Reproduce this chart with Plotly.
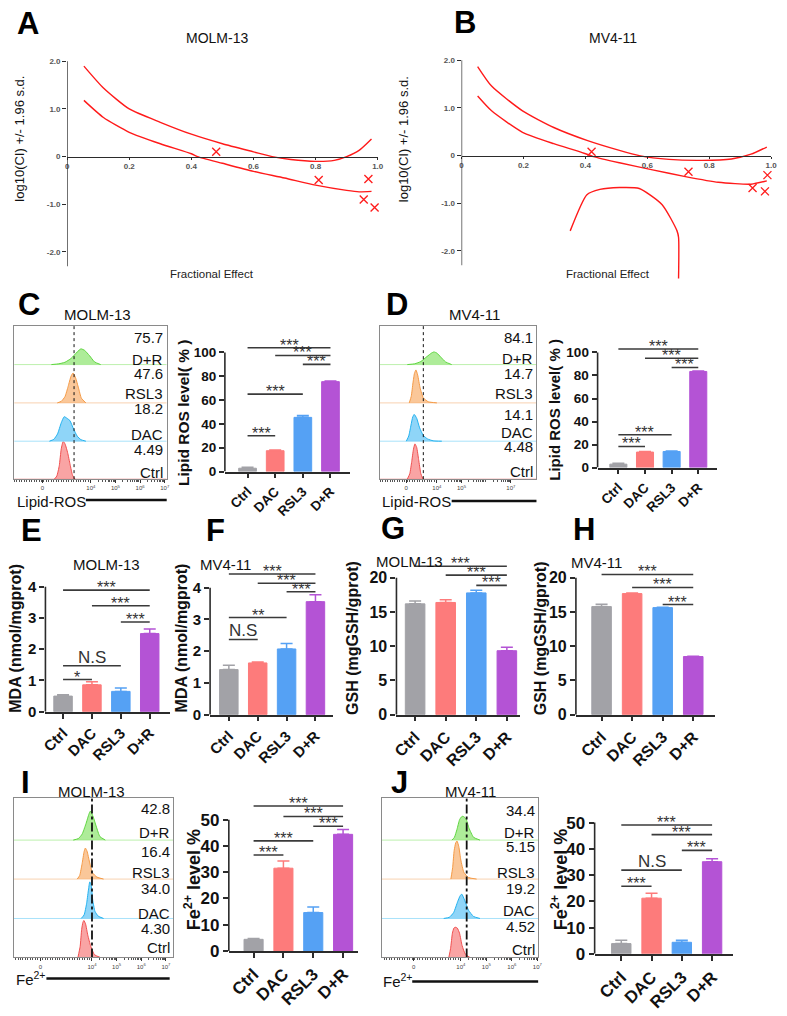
import numpy as np
import plotly.graph_objects as go

W, H = 787, 1016
FONT = "Liberation Sans, Arial, sans-serif"
AX = "#2b2b2b"

# ---------------- data ----------------
groups = ["Ctrl", "DAC", "RSL3", "D+R"]
bar_colors = ["#a2a2a7", "#fd7b7b", "#55a1f4", "#b453d5"]

# A: MOLM-13 combination index (Fa vs log10 CI)
a_upper_fa = [0.054, 0.117, 0.20, 0.30, 0.40, 0.50, 0.60, 0.66, 0.72, 0.80, 0.86, 0.90, 0.94, 0.98]
a_upper_ci = [1.90, 1.44, 1.00, 0.72, 0.47, 0.27, 0.10, 0.00, -0.06, -0.10, -0.08, 0.00, 0.13, 0.37]
a_lower_fa = [0.054, 0.117, 0.20, 0.30, 0.40, 0.42, 0.50, 0.60, 0.70, 0.80, 0.90, 0.94, 0.98]
a_lower_ci = [1.18, 0.82, 0.51, 0.27, 0.06, 0.00, -0.14, -0.31, -0.45, -0.60, -0.71, -0.74, -0.73]
a_pts_fa = [0.48, 0.81, 0.97, 0.955, 0.99]
a_pts_ci = [0.10, -0.49, -0.47, -0.90, -1.07]

# B: MV4-11 combination index
b_upper_fa = [0.052, 0.097, 0.197, 0.298, 0.405, 0.51, 0.574, 0.67, 0.776, 0.872, 0.935, 0.986]
b_upper_ci = [1.87, 1.46, 0.94, 0.59, 0.32, 0.11, 0.00, -0.08, -0.10, -0.07, 0.03, 0.18]
b_lower_fa = [0.052, 0.097, 0.197, 0.298, 0.383, 0.426, 0.51, 0.617, 0.723, 0.829, 0.935, 0.986]
b_lower_ci = [1.25, 0.94, 0.49, 0.25, 0.08, -0.02, -0.15, -0.30, -0.44, -0.56, -0.60, -0.53]
b_arc_fa = [0.351, 0.405, 0.447, 0.51, 0.574, 0.648, 0.696, 0.701, 0.701]
b_arc_ci = [-1.58, -0.82, -0.71, -0.67, -0.69, -1.03, -1.58, -1.72, -2.58]
b_pts_fa = [0.42, 0.733, 0.988, 0.94, 0.98]
b_pts_ci = [0.08, -0.34, -0.41, -0.68, -0.75]

# flow histograms: x = log10 fluorescence (display), h = height in row units
c_hist = {
    "Ctrl": ([2.52, 2.62, 2.72, 2.80, 2.88, 2.96, 3.06, 3.16, 3.26, 3.36],
             [0, 0.08, 0.35, 0.79, 0.99, 0.91, 0.69, 0.38, 0.10, 0]),
    "DAC": ([2.32, 2.50, 2.65, 2.80, 2.92, 3.05, 3.15, 3.30, 3.45, 3.60, 3.80],
            [0, 0.05, 0.19, 0.48, 0.64, 0.59, 0.54, 0.32, 0.13, 0.04, 0]),
    "RSL3": ([2.64, 2.80, 2.95, 3.08, 3.20, 3.28, 3.38, 3.50, 3.62, 3.80],
             [0, 0.04, 0.16, 0.43, 0.70, 0.78, 0.66, 0.39, 0.12, 0]),
    "D+R": ([2.40, 2.70, 2.95, 3.20, 3.45, 3.60, 3.75, 3.95, 4.15, 4.40],
            [0, 0.02, 0.06, 0.16, 0.33, 0.41, 0.37, 0.23, 0.07, 0]),
}
d_hist = {
    "Ctrl": ([2.80, 2.90, 2.98, 3.05, 3.11, 3.18, 3.26, 3.35, 3.44],
             [0, 0.14, 0.46, 0.78, 0.92, 0.83, 0.51, 0.14, 0]),
    "DAC": ([2.76, 2.86, 2.95, 3.02, 3.08, 3.18, 3.30, 3.45, 3.62, 3.85, 4.20],
            [0, 0.14, 0.42, 0.63, 0.70, 0.60, 0.35, 0.15, 0.06, 0.01, 0]),
    "RSL3": ([2.88, 2.96, 3.03, 3.09, 3.15, 3.22, 3.32, 3.45, 3.65, 4.00],
             [0, 0.17, 0.52, 0.77, 0.86, 0.73, 0.39, 0.13, 0.03, 0]),
    "D+R": ([2.80, 3.10, 3.35, 3.60, 3.78, 3.88, 4.00, 4.15, 4.35, 4.60],
            [0, 0.02, 0.08, 0.21, 0.30, 0.33, 0.30, 0.20, 0.07, 0]),
}
i_hist = {
    "Ctrl": ([3.43, 3.52, 3.58, 3.63, 3.67, 3.74, 3.83, 3.95, 4.10, 4.34],
             [0, 0.28, 0.70, 0.88, 0.93, 0.84, 0.56, 0.28, 0.07, 0]),
    "DAC": ([3.56, 3.68, 3.78, 3.85, 3.91, 3.97, 4.03, 4.12, 4.25, 4.47],
            [0, 0.09, 0.37, 0.69, 0.92, 0.83, 0.46, 0.18, 0.06, 0]),
    "RSL3": ([3.40, 3.50, 3.60, 3.68, 3.73, 3.80, 3.90, 4.02, 4.20, 4.47],
             [0, 0.09, 0.39, 0.69, 0.78, 0.70, 0.43, 0.16, 0.05, 0]),
    "D+R": ([3.24, 3.45, 3.60, 3.75, 3.88, 3.94, 4.05, 4.18, 4.32, 4.54],
            [0, 0.04, 0.15, 0.40, 0.66, 0.73, 0.58, 0.33, 0.09, 0]),
}
j_hist = {
    "Ctrl": ([3.53, 3.60, 3.67, 3.73, 3.78, 3.86, 3.95, 4.05, 4.18, 4.36],
             [0, 0.23, 0.61, 0.74, 0.76, 0.74, 0.61, 0.30, 0.08, 0]),
    "DAC": ([3.33, 3.55, 3.72, 3.88, 3.98, 4.04, 4.15, 4.30, 4.50, 4.75],
            [0, 0.03, 0.15, 0.43, 0.58, 0.61, 0.46, 0.21, 0.05, 0]),
    "RSL3": ([3.61, 3.68, 3.74, 3.80, 3.85, 3.92, 4.00, 4.12, 4.30, 4.62],
             [0, 0.29, 0.72, 0.91, 0.96, 0.82, 0.48, 0.17, 0.04, 0]),
    "D+R": ([3.65, 3.75, 3.85, 3.95, 4.02, 4.08, 4.20, 4.32, 4.50, 4.75],
            [0, 0.07, 0.27, 0.51, 0.58, 0.60, 0.54, 0.30, 0.07, 0]),
}
c_hist_labels = ["75.7", "D+R", "47.6", "RSL3", "18.2", "DAC", "4.49", "Ctrl"]
d_hist_labels = ["84.1", "D+R", "14.7", "RSL3", "14.1", "DAC", "4.48", "Ctrl"]
i_hist_labels = ["42.8", "D+R", "16.4", "RSL3", "34.0", "DAC", "4.30", "Ctrl"]
j_hist_labels = ["34.4", "D+R", "5.15", "RSL3", "19.2", "DAC", "4.52", "Ctrl"]
flow_ticktext = ["0", "10<sup>4</sup>", "10<sup>5</sup>", "10<sup>6</sup>", "10<sup>7</sup>"]

# bar charts: mean, error, significance brackets (i, j, y, label)
c_ros = [2.8, 17.5, 45.5, 75.5]
c_ros_err = [0.8, 0.5, 1.5, 0.5]
c_sig = [(0, 1, 30, "***"), (0, 2, 65, "***"), (0, 3, 104, "***"), (1, 3, 97.5, "***"), (2, 3, 90, "***")]
d_ros = [3.0, 13.5, 14.0, 83.5]
d_ros_err = [0.8, 0.5, 0.4, 0.4]
d_sig = [(0, 1, 18.4, "***"), (0, 2, 28.5, "***"), (0, 3, 103, "***"), (1, 3, 95, "***"), (2, 3, 87, "***")]
e_mda = [0.50, 0.86, 0.65, 2.50]
e_mda_err = [0.04, 0.10, 0.11, 0.15]
e_sig = [(0, 1, 1.03, "*"), (0, 2, 1.47, "N.S"), (0, 3, 3.89, "***"), (1, 3, 3.39, "***"), (2, 3, 2.87, "***")]
f_mda = [1.42, 1.63, 2.07, 3.56]
f_mda_err = [0.14, 0.03, 0.17, 0.22]
f_sig = [(0, 1, 2.37, "N.S"), (0, 2, 3.06, "**"), (0, 3, 4.43, "***"), (1, 3, 4.14, "***"), (2, 3, 3.87, "***")]
g_gsh = [16.2, 16.4, 17.8, 9.35]
g_gsh_err = [0.4, 0.4, 0.4, 0.5]
g_sig = [(0, 3, 21.7, "***"), (1, 3, 20.4, "***"), (2, 3, 18.9, "***")]
h_gsh = [15.8, 17.7, 15.65, 8.5]
h_gsh_err = [0.35, 0.1, 0.05, 0.05]
h_sig = [(0, 3, 20.5, "***"), (1, 3, 18.6, "***"), (2, 3, 16.1, "***")]
i_fe = [4.4, 31.5, 14.6, 44.4]
i_fe_err = [0.3, 2.7, 2.1, 1.8]
i_sig = [(0, 1, 36.5, "***"), (0, 2, 41.9, "***"), (0, 3, 55.2, "***"), (1, 3, 51.2, "***"), (2, 3, 47.5, "***")]
j_fe = [3.9, 21.2, 4.4, 35.1]
j_fe_err = [1.3, 1.9, 0.8, 1.1]
j_sig = [(0, 1, 25.75, "***"), (0, 2, 31.9, "N.S"), (0, 3, 49.1, "***"), (1, 3, 45.4, "***"), (2, 3, 39.4, "***")]

# ---------------- helpers ----------------
fig = go.Figure()
layout = {}
annotations = []
shapes = []


def ax_names(n):
    s = "" if n == 1 else str(n)
    return "x" + s, "y" + s, "xaxis" + s, "yaxis" + s


def dom_x(a, b):
    return [a / W, b / W]


def dom_y(top, bottom):
    return [1 - bottom / H, 1 - top / H]


def text(t, x, y, size, bold=False, angle=0, xanchor="center", color="#111"):
    annotations.append(dict(text=t, x=x / W, y=1 - y / H, xref="paper", yref="paper",
                            showarrow=False, textangle=angle, xanchor=xanchor, yanchor="middle",
                            font=dict(family=FONT, size=size, color=color,
                                      weight=700 if bold else 400)))


def pline(x0, x1, y, width=2.5):
    shapes.append(dict(type="line", xref="paper", yref="paper", x0=x0 / W, x1=x1 / W,
                       y0=1 - y / H, y1=1 - y / H, line=dict(color="#111", width=width)))


# ---------------- A / B ----------------
def ci_panel(n, xpx, zero_px, curves, pts_fa, pts_ci):
    xr, yr, xk, yk = ax_names(n)
    for fa, ci in curves:
        fig.add_trace(go.Scatter(x=fa, y=ci, xaxis=xr, yaxis=yr, mode="lines",
                                 line=dict(color="#ff1a1a", width=1.4, shape="spline", smoothing=0.6)))
    fig.add_trace(go.Scatter(x=pts_fa, y=pts_ci, xaxis=xr, yaxis=yr, mode="markers", cliponaxis=False,
                             marker=dict(symbol="x-thin", size=8, line=dict(color="#ff1a1a", width=1.3))))
    ppu = 48.4
    ymin, ymax = -2.65, 2.05
    top, bot = zero_px - ymax * ppu, zero_px - ymin * ppu
    tf = dict(family=FONT, size=8, color="#555", weight=700)
    layout[xk] = dict(domain=dom_x(*xpx), range=[0, 1.0], anchor="free", position=1 - zero_px / H,
                      showline=True, linecolor=AX, linewidth=1.3, ticks="outside", ticklen=2,
                      tickcolor=AX, tickvals=[0, 0.2, 0.4, 0.6, 0.8, 1.0],
                      ticktext=["0", "0.2", "0.4", "0.6", "0.8", "1.0"], tickfont=tf,
                      showgrid=False, zeroline=False)
    layout[yk] = dict(domain=dom_y(top, bot), range=[ymin, ymax], anchor=xr, showline=False,
                      ticks="outside", ticklen=4, tickcolor=AX, tickvals=[2, 1, 0, -1, -2],
                      ticktext=["2.0", "1.0", "0", "-1.0", "-2.0"], tickfont=tf,
                      showgrid=False, zeroline=False)
    shapes.append(dict(type="line", xref=xr, yref=yr, x0=0, x1=0, y0=-2.3, y1=2.0,
                       line=dict(color=AX, width=1.3)))


ci_panel(1, (63, 378), 153, [(a_upper_fa, a_upper_ci), (a_lower_fa, a_lower_ci)], a_pts_fa, a_pts_ci)
ci_panel(2, (463, 777), 152, [(b_upper_fa, b_upper_ci), (b_lower_fa, b_lower_ci), (b_arc_fa, b_arc_ci)],
         b_pts_fa, b_pts_ci)
text("MOLM-13", 215, 33, 14)
text("MV4-11", 617, 33, 14)
text("log10(CI) +/- 1.96 s.d.", 15, 135, 13, angle=-90)
text("log10(CI) +/- 1.96 s.d.", 405, 135, 13, angle=-90)
text("Fractional Effect", 210, 272, 11.5, color="#222")
text("Fractional Effect", 612, 272, 11.5, color="#222")

# ---------------- flow histograms ----------------
hist_style = {
    "Ctrl": ("#f05050", "rgba(246,125,125,0.7)", "#f3a0a0"),
    "DAC": ("#22b2f0", "rgba(95,195,245,0.7)", "#a8e2fa"),
    "RSL3": ("#f59a45", "rgba(248,175,110,0.7)", "#f8d2b0"),
    "D+R": ("#5fd640", "rgba(140,228,110,0.7)", "#bdf0ad"),
}


def hist_panel(n, hists, xpx, ypx, xrange, bases, gate, dash, tickvals, ticktext, labels, label_y):
    xr, yr, xk, yk = ax_names(n)
    for g, b in zip(groups, bases):
        hx, hh = hists[g]
        lc, fc, pale = hist_style[g]
        fig.add_trace(go.Scatter(x=[xrange[0], xrange[1]], y=[b, b], xaxis=xr, yaxis=yr, mode="lines",
                                 line=dict(color=pale, width=1)))
        fig.add_trace(go.Scatter(x=hx, y=[b + v for v in hh], xaxis=xr, yaxis=yr, mode="lines",
                                 fill="toself", fillcolor=fc,
                                 line=dict(color=lc, width=1, shape="spline", smoothing=0.5)))
    gw = 1 if dash == "dot" else 1.8
    fig.add_trace(go.Scatter(x=[gate, gate], y=[0, 4], xaxis=xr, yaxis=yr, mode="lines",
                             line=dict(color="#111", width=gw, dash=dash)))
    minor = [v for v in np.arange(np.ceil(xrange[0] * 10) / 10, 3.95, 0.1)]
    minor += [d + np.log10(k) for d in range(4, 7) for k in range(2, 10)]
    layout[xk] = dict(domain=dom_x(*xpx), range=list(xrange), anchor=yr, showline=True, mirror=True,
                      linecolor="#8a8a8a", linewidth=1, ticks="outside", ticklen=3, tickcolor="#333",
                      tickvals=tickvals, ticktext=ticktext,
                      tickfont=dict(family=FONT, size=6, color="#444"),
                      minor=dict(tickvals=minor, ticks="outside", ticklen=2, tickcolor="#555"),
                      showgrid=False, zeroline=False)
    layout[yk] = dict(domain=dom_y(*ypx), range=[0, 4], anchor=xr, showline=True, mirror=True,
                      linecolor="#8a8a8a", linewidth=1, showticklabels=False, ticks="",
                      showgrid=False, zeroline=False)
    for t, yy in zip(labels, label_y):
        text(t, xpx[1] - 1.5, yy, 15, xanchor="right")


hist_panel(3, c_hist, (9.3, 164), (325, 480.7), (0.89, 7.08), [0, 0.99, 1.99, 2.99], 3.32, "dot",
           [2.04, 4, 5, 6, 7], flow_ticktext, c_hist_labels, [337, 359, 373, 394, 409, 435, 451, 474])
hist_panel(5, d_hist, (380, 539), (325, 480.7), (1.68, 8.04), [0, 0.99, 1.99, 2.99], 3.45, "dot",
           [2.75, 4, 5, 7], [flow_ticktext[0], flow_ticktext[1], flow_ticktext[2], flow_ticktext[4]],
           d_hist_labels, [337, 358, 373, 394, 415, 433, 448, 473])
hist_panel(11, i_hist, (9, 170.7), (805, 966.7), (0.83, 7.3), [0, 0.98, 1.97, 2.95], 4.0, "dashdot",
           [1.91, 4, 5, 6, 7], flow_ticktext, i_hist_labels, [815, 840, 859, 880, 897, 922, 937, 957])
hist_panel(13, j_hist, (382.3, 540.7), (805, 966.7), (0.91, 7.03), [0, 0.98, 1.97, 2.95], 4.23, "dashdot",
           [2.15, 4, 5, 6, 7], flow_ticktext, j_hist_labels, [817, 840, 854, 880, 897, 919, 935, 959])

text("MOLM-13", 94, 313, 15)
text("MV4-11", 476, 313, 15)
text("MOLM-13", 88, 798, 15)
text("MV4-11", 472, 798, 15)
text("Lipid-ROS", 10, 503, 15, xanchor="left")
pline(82, 164, 502)
text("Lipid-ROS", 380, 503, 15, xanchor="left")
pline(453, 539, 503)
text("Fe<sup>2+</sup>", 9, 988, 15, xanchor="left")
pline(42, 167, 988)
text("Fe<sup>2+</sup>", 381, 990, 15, xanchor="left")
pline(413, 540.7, 991)


# ---------------- bar charts ----------------
def bar_panel(n, means, errs, sig, xpx, zero_px, ppu, ymax, ytop, dtick, xrange, fs):
    xr, yr, xk, yk = ax_names(n)
    for g, m, e, c in zip(groups, means, errs, bar_colors):
        fig.add_trace(go.Bar(x=[g], y=[m], xaxis=xr, yaxis=yr, width=0.64,
                             marker=dict(color=c, line=dict(color=c, width=1)),
                             error_y=dict(type="data", array=[e], arrayminus=[0], symmetric=False,
                                          color=c, thickness=1.5, width=6)))
    for i, j, v, lab in sig:
        fig.add_trace(go.Scatter(x=[groups[i], groups[j]], y=[v, v], xaxis=xr, yaxis=yr, mode="lines",
                                 line=dict(color="#3a3a3a", width=1.6)))
        ns = lab == "N.S"
        annotations.append(dict(text=lab, x=(i + j) / 2, y=v, xref=xr, yref=yr, showarrow=False,
                                yanchor="bottom", yshift=-3 if ns else -8,
                                font=dict(family=FONT, size=17 if ns else 16, color="#333")))
    tf = dict(family=FONT, size=fs, color="#111", weight=700)
    layout[xk] = dict(domain=dom_x(*xpx), range=list(xrange), anchor=yr, type="category",
                      showline=True, linecolor=AX, linewidth=1.6, ticks="outside", ticklen=5,
                      tickwidth=1.5, tickcolor=AX, tickangle=-45, tickfont=tf, showgrid=False)
    layout[yk] = dict(domain=dom_y(zero_px - ymax * ppu, zero_px), range=[0, ymax], anchor=xr,
                      showline=False, ticks="outside", ticklen=5, tickwidth=1.5, tickcolor=AX,
                      tickvals=list(np.arange(0, ytop + dtick / 2, dtick)), tickfont=tf,
                      showgrid=False, zeroline=False)
    shapes.append(dict(type="line", xref=xr + " domain", yref=yr, x0=0, x1=0, y0=0, y1=ytop,
                       line=dict(color=AX, width=1.6)))


bar_panel(4, c_ros, c_ros_err, c_sig, (223, 350), 473, 1.21, 107, 100, 20, (-0.82, 3.71), 13.5)
bar_panel(6, d_ros, d_ros_err, d_sig, (601, 722), 469, 1.17, 107, 100, 20, (-0.78, 3.70), 13.5)
bar_panel(7, e_mda, e_mda_err, e_sig, (41, 167), 717, 31.75, 4.1, 4, 1, (-0.61, 3.69), 15)
bar_panel(8, f_mda, f_mda_err, f_sig, (208, 333), 720, 32.25, 4.55, 4, 1, (-0.65, 3.62), 15)
bar_panel(9, g_gsh, g_gsh_err, g_sig, (397, 522), 720, 6.95, 22.3, 20, 5, (-0.61, 3.42), 16)
bar_panel(10, h_gsh, h_gsh_err, h_sig, (579, 720), 720, 6.95, 21, 20, 5, (-0.84, 3.71), 16)
bar_panel(12, i_fe, i_fe_err, i_sig, (227, 358), 960, 2.667, 57, 50, 10, (-0.83, 3.50), 17)
bar_panel(14, j_fe, j_fe_err, j_sig, (598, 738), 963, 2.667, 51, 50, 10, (-0.88, 3.68), 17)

text("Lipid ROS level( % )", 181, 413, 15.5, bold=True, angle=-90)
text("Lipid ROS level( % )", 557, 410, 15, bold=True, angle=-90)
text("MDA (nmol/mgprot)", 11, 642, 16, bold=True, angle=-90)
text("MDA (nmol/mgprot)", 179, 642, 16, bold=True, angle=-90)
text("GSH (mgGSH/gprot)", 353, 642, 16, bold=True, angle=-90)
text("GSH (mgGSH/gprot)", 543, 642, 16, bold=True, angle=-90)
text("Fe<sup>2+</sup> level %", 190, 888, 18, bold=True, angle=-90)
text("Fe<sup>2+</sup> level %", 562, 888, 18, bold=True, angle=-90)
text("MOLM-13", 103, 567, 15)
text("MV4-11", 224, 567, 15)
text("MOLM-13", 410, 564, 15)
text("MV4-11", 600, 565, 15)

# panel letters
for letter, lx, ly in [("A", 23, 18), ("B", 467, 17), ("C", 24, 303), ("D", 398, 303),
                       ("E", 27, 533), ("F", 213, 533), ("G", 393, 531), ("H", 587, 532),
                       ("I", 21, 789), ("J", 400, 789)]:
    text(letter, lx, ly, 31, bold=True, color="#000")

fig.update_layout(width=W, height=H, margin=dict(l=0, r=0, t=0, b=0), showlegend=False,
                  paper_bgcolor="white", plot_bgcolor="white", barmode="overlay",
                  font=dict(family=FONT), annotations=annotations, shapes=shapes, **layout)
# page body has a default 8px margin; drop it so the figure sits at the window origin
fig.write_html("out.html", config={"displayModeBar": False},
               post_script="document.body.style.margin='0';")
